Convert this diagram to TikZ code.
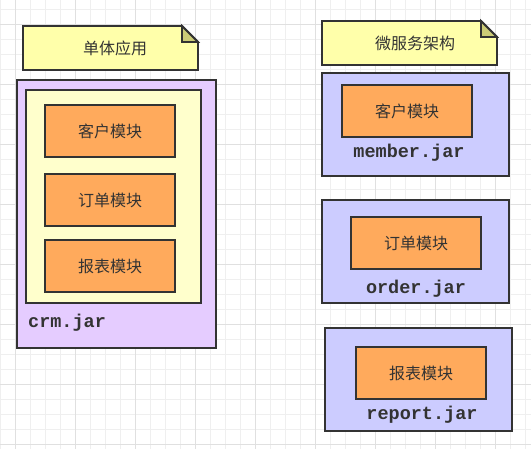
\documentclass[tikz,border=0pt]{standalone}
\usepackage{fontspec}
\setmonofont{Liberation Mono}
\newfontfamily\cjk{Noto Sans CJK SC}
\usetikzlibrary{positioning}

\definecolor{notefill}{HTML}{FFFFAA}
\definecolor{notefold}{HTML}{CCCC77}
\definecolor{jarpurple}{HTML}{E5CCFF}
\definecolor{jarblue}{HTML}{CCCCFF}
\definecolor{warpale}{HTML}{FFFFCC}
\definecolor{modorange}{HTML}{FFAA5C}
\definecolor{gridminor}{HTML}{EFEFEF}
\definecolor{gridmajor}{HTML}{E0E0E0}
\definecolor{edge}{HTML}{333333}

\tikzset{
  box/.style={draw=edge, line width=1.8pt, inner sep=0pt},
  module/.style={box, fill=modorange, minimum width=130pt, minimum height=52pt,
    font=\cjk\fontsize{16}{16}\selectfont, text=edge},
  notetext/.style={font=\cjk\fontsize{16}{16}\selectfont, text=edge, inner sep=0pt},
  jarlabel/.style={font=\ttfamily\bfseries\fontsize{18.5}{18.5}\selectfont, text=edge, inner sep=0pt},
}

\begin{document}
\begin{tikzpicture}[x=1pt, y=-1pt]
        % Background and grid
        \useasboundingbox (0,0) rectangle (531,449);
        \fill[white] (0,0) rectangle (531,449);
        \foreach \gx in {0,15,...,525} \draw[gridminor, line width=0.8pt] (\gx,0) -- (\gx,449);
        \foreach \gy in {9,24,...,444} \draw[gridminor, line width=0.8pt] (0,\gy) -- (531,\gy);
        \foreach \gx in {15,75,...,495} \draw[gridmajor, line width=0.8pt] (\gx,0) -- (\gx,449);
        \foreach \gy in {24,84,...,444} \draw[gridmajor, line width=0.8pt] (0,\gy) -- (531,\gy);

        % Note: monolith
        \filldraw[box, fill=notefill] (23,26) -- (182,26) -- (198,42) -- (198,70) -- (23,70) -- cycle;
        \filldraw[box, fill=notefold] (182,26) -- (198,42) -- (182,42) -- cycle;
        \node[notetext] (monotitle) at (115,48) {单体应用};

        % crm.jar with its war and modules
        \node[box, fill=jarpurple, minimum width=199pt, minimum height=268pt] (crm) at (116.5,214) {};
        \node[box, fill=warpale, minimum width=175pt, minimum height=213pt] (crmwar) at (113.5,196.5) {};
        \node[module] (crmcustomer) at (110,131) {客户模块};
        \node[module] (crmorder) at (110,200) {订单模块};
        \node[module] (crmreport) at (110,266) {报表模块};
        \node[jarlabel, anchor=west] (crmlabel) at (28,323) {crm.jar};

        % Note: microservices
        \filldraw[box, fill=notefill] (322,21) -- (481,21) -- (497,37) -- (497,65) -- (322,65) -- cycle;
        \filldraw[box, fill=notefold] (481,21) -- (497,37) -- (481,37) -- cycle;
        \node[notetext] (microtitle) at (415,43) {微服务架构};

        % member.jar
        \node[box, fill=jarblue, minimum width=187pt, minimum height=103pt] (member) at (415.5,124.5) {};
        \node[module] (membermod) at (407,111) {客户模块};
        \node[jarlabel] (memberlabel) at (409,153) {member.jar};

        % order.jar
        \node[box, fill=jarblue, minimum width=187pt, minimum height=103pt] (order) at (415.5,251.5) {};
        \node[module] (ordermod) at (416,243) {订单模块};
        \node[jarlabel] (orderlabel) at (416,289) {order.jar};

        % report.jar
        \node[box, fill=jarblue, minimum width=187pt, minimum height=103pt] (report) at (418.5,379.5) {};
        \node[module] (reportmod) at (421,373) {报表模块};
        \node[jarlabel] (reportlabel) at (422,415) {report.jar};
    \end{tikzpicture}
\end{document}
